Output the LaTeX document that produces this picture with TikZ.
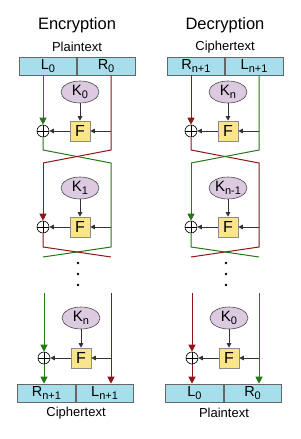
\documentclass[tikz,border=0pt]{standalone}
\usepackage{fontspec}
\setmainfont{Liberation Sans}
\usetikzlibrary{arrows.meta,shapes.geometric}
\definecolor{boxcyan}{RGB}{166,222,236}
\definecolor{keymauve}{RGB}{220,202,224}
\definecolor{fyellow}{RGB}{250,228,140}
\definecolor{lgreen}{RGB}{38,120,22}
\definecolor{lred}{RGB}{142,22,22}
\newcommand\sbs[1]{\raisebox{-0.45ex}{\fontsize{11}{11}\selectfont#1}}
\tikzset{
  title/.style={font=\fontsize{16.5}{17}\selectfont},
  caption/.style={font=\fontsize{13}{13}\selectfont},
  half/.style={draw=black!60, fill=boxcyan, minimum width=57.5pt, minimum height=18pt, inner sep=0pt, font=\fontsize{14.5}{14.5}\selectfont},
  keyell/.style={ellipse, draw=black!70, fill=keymauve, minimum width=38pt, minimum height=22pt, inner sep=0pt, font=\fontsize{15}{15}\selectfont},
  fbox/.style={draw=black!45, fill=fyellow, minimum size=20pt, inner sep=0pt, font=\fontsize{16}{16}\selectfont},
  xor/.style={circle, draw, minimum size=12pt, inner sep=0pt, line width=0.6pt,
    path picture={\draw (path picture bounding box.north) -- (path picture bounding box.south)
      (path picture bounding box.west) -- (path picture bounding box.east);}},
  flow/.style={line width=1pt},
  flowarr/.style={flow, -{Triangle[width=7pt,length=7pt]}},
  sig/.style={-{Triangle[width=4.5pt,length=4.5pt]}, line width=0.8pt, black!80},
}
\begin{document}
\begin{tikzpicture}[x=1pt, y=-1pt, line width=0.6pt]
  \useasboundingbox (0,0) rectangle (300,439);
  \foreach \ox/\p/\ttl/\tin/\tout/\ca/\cb/\topl/\topr/\botl/\botr/\ka/\kb/\kc in {
      0/e/Encryption/Plaintext/Ciphertext/lgreen/lred/L\sbs{0}/R\sbs{0}/R\sbs{n+1}/L\sbs{n+1}/0/1/n,
      148/d/Decryption/Ciphertext/Plaintext/lred/lgreen/R\sbs{n+1}/L\sbs{n+1}/L\sbs{0}/R\sbs{0}/n/n-1/0}{
    % titles and input block
    \node[title] (\p-title) at ({\ox+77},25) {\ttl};
    \node[caption] (\p-in) at ({\ox+77},47) {\tin};
    \node[half, anchor=east] (\p-tl) at ({\ox+77},66) {\topl};
    \node[half, anchor=west] (\p-tr) at ({\ox+77},66) {\topr};
    % round 1
    \node[keyell] (\p-k1) at ({\ox+80},92) {K\sbs{\ka}};
    \node[fbox] (\p-f1) at ({\ox+80},131) {F};
    \node[xor] (\p-x1) at ({\ox+43},131) {};
    \coordinate (\p-a1) at ({\ox+111},131);
    % round 2
    \node[keyell] (\p-k2) at ({\ox+80},188) {K\sbs{\kb}};
    \node[fbox] (\p-f2) at ({\ox+80},227) {F};
    \node[xor] (\p-x2) at ({\ox+43},227) {};
    \coordinate (\p-a2) at ({\ox+111},227);
    % last round
    \node[keyell] (\p-k3) at ({\ox+81},318) {K\sbs{\kc}};
    \node[fbox] (\p-f3) at ({\ox+81},358) {F};
    \node[xor] (\p-x3) at ({\ox+44},358) {};
    \coordinate (\p-a3) at ({\ox+111},358);
    % output block
    \node[half, anchor=east] (\p-bl) at ({\ox+75.5},393) {\botl};
    \node[half, anchor=west] (\p-br) at ({\ox+75.5},393) {\botr};
    \node[caption] (\p-out) at ({\ox+76},413) {\tout};
    % swap points
    \coordinate (\p-s1l) at ({\ox+43},150);
    \coordinate (\p-s1r) at ({\ox+111},150);
    \coordinate (\p-t1l) at ({\ox+43},163);
    \coordinate (\p-t1r) at ({\ox+111},163);
    \coordinate (\p-s2l) at ({\ox+43},247);
    \coordinate (\p-s2r) at ({\ox+111},247);
    \coordinate (\p-t2l) at ({\ox+43},257);
    \coordinate (\p-t2r) at ({\ox+111},257);
    \coordinate (\p-u3l) at ({\ox+44},293);
    \coordinate (\p-u3r) at ({\ox+111},293);
    % data lines
    \draw[flowarr, \ca] (\p-tl.south -| \p-x1) -- (\p-x1);
    \draw[flow, \ca] (\p-x1) -- (\p-s1l) -- (\p-t1r) -- (\p-s2r) -- (\p-t2l);
    \draw[flow, \cb] (\p-tr.south -| \p-a1) -- (\p-s1r) -- (\p-t1l);
    \draw[flowarr, \cb] (\p-t1l) -- (\p-x2);
    \draw[flow, \cb] (\p-x2) -- (\p-s2l) -- (\p-t2r);
    \draw[flowarr, \ca] (\p-u3l) -- (\p-x3);
    \draw[flowarr, \ca] (\p-x3) -- (\p-bl.north -| \p-x3);
    \draw[flowarr, \cb] (\p-u3r) -- (\p-br.north -| \p-u3r);
    % round function arrows
    \foreach \r in {1,2,3}{
      \draw[sig] (\p-k\r) -- (\p-f\r);
      \draw[sig] (\p-a\r) -- (\p-f\r);
      \draw[sig] (\p-f\r) -- (\p-x\r);
    }
    % dots
    \foreach \y in {263,274,285}
      \fill ({\ox+78},\y) circle (1.4pt);
  }
\end{tikzpicture}
\end{document}
